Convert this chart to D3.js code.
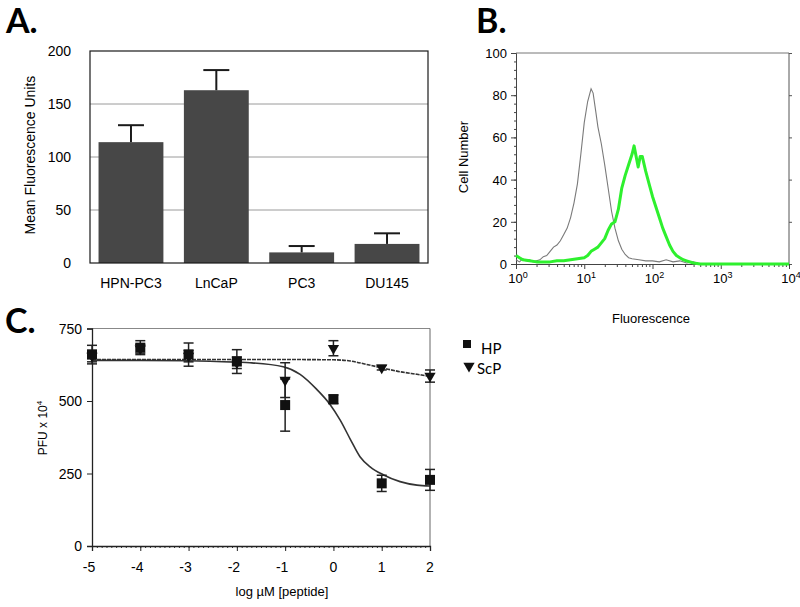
<!DOCTYPE html>
<html>
<head>
<meta charset="utf-8">
<script src="https://cdn.jsdelivr.net/npm/d3@7"></script>
<style>
  body { margin: 0; background: #fff; }
  text { font-family: "Liberation Sans", Arial, sans-serif; fill: #000; }
  .panel { font-family: Lato, "Open Sans", sans-serif; font-weight: 700; font-size: 34px; }
</style>
</head>
<body>
<div id="chart"></div>
<script>
// ---- panel A data
var cellLines = ["HPN-PC3", "LnCaP", "PC3", "DU145"];
var meanFluor = [114, 163, 10, 18];
var meanFluorErr = [16, 19, 6, 10];
var aTicks = [0, 50, 100, 150, 200];

// ---- panel B data (log10 fluorescence, cell count)
var ctrlLog = [0, 0.05, 0.1, 0.15, 0.2, 0.25, 0.3, 0.35, 0.4, 0.45, 0.5, 0.55, 0.6, 0.65, 0.7, 0.75, 0.8, 0.85, 0.9, 0.95, 1.0, 1.05, 1.1, 1.13, 1.17, 1.2, 1.25, 1.3, 1.35, 1.4, 1.45, 1.5, 1.55, 1.6, 1.65, 1.7, 1.8, 1.9, 2.0, 2.1, 2.2, 2.3, 2.4, 2.5, 2.6, 2.7, 4.0];
var ctrlCount = [2, 1, 2.5, 1.5, 2, 1, 1.5, 2, 3.5, 4, 6, 8, 9, 11, 14, 17, 22, 29, 38, 52, 67, 77, 83, 81, 72, 65, 57, 47, 36, 25, 17, 11, 7, 4.5, 3, 2.5, 2, 1.5, 1.5, 1, 2, 1, 1.5, 0.5, 1, 0, 0];
var hpnLog = [0, 0.05, 0.1, 0.2, 0.3, 0.4, 0.5, 0.6, 0.7, 0.8, 0.9, 1.0, 1.05, 1.1, 1.15, 1.2, 1.25, 1.3, 1.35, 1.4, 1.45, 1.5, 1.55, 1.6, 1.65, 1.7, 1.73, 1.76, 1.79, 1.82, 1.85, 1.9, 1.95, 2.0, 2.05, 2.1, 2.15, 2.2, 2.25, 2.3, 2.35, 2.4, 2.45, 2.5, 2.6, 2.7, 4.0];
var hpnCount = [4, 3, 2, 1.5, 1, 1, 1, 1.5, 1.5, 2, 2.5, 3, 4, 6, 7, 8, 10, 12, 16, 19, 20, 26, 36, 42, 47, 52, 56, 51, 46, 51, 51, 44, 38, 32, 27, 22, 17, 13, 9, 6, 4, 3, 2, 1.5, 0.5, 0, 0];
var bYTicks = [0, 20, 40, 60, 80, 100];
var bXTicks = [0, 1, 2, 3, 4];

// ---- panel C data
var logDose = [-5, -4, -3, -2, -1, 0, 1, 2];
var hpPfu = [660, 684, 660, 636, 486, 506, 216, 228];
var hpErr = [32, 24, 40, 41, 90, 15, 28, 36];
var scpPfu = [655, 680, 655, 632, 572, 682, 615, 586];
var scpErr = [20, 15, 20, 20, 60, 26, 8, 21];
var hpFitX = [-5, -4, -3, -2, -1.73, -1.04, -0.69, -0.345, -0.07, 0.14, 0.35, 0.55, 0.76, 1.04, 1.38, 1.73, 2];
var hpFitY = [640, 640, 639, 634, 632, 618, 592, 540, 488, 434, 368, 308, 273, 245, 222, 210, 207];
var scpFitX = [-5, -3, -1, 0, 0.35, 0.69, 1.04, 1.38, 1.73, 2];
var scpFitY = [643, 643, 643, 642, 638, 626, 613, 601, 592, 585];
var cYTicks = [0, 250, 500, 750];

var svg = d3.select("#chart").append("svg")
  .attr("width", 800).attr("height", 607);

// =================== A
var gA = svg.append("g");
svg.append("text").attr("class", "panel").attr("x", 6).attr("y", 33).text("A.");

var ax = d3.scaleBand().domain(cellLines).range([90, 428]).paddingInner(0.24).paddingOuter(0.1);
var ay = d3.scaleLinear().domain([0, 200]).range([263, 51]);

gA.selectAll(".grid").data([50, 100, 150]).enter().append("line")
  .attr("x1", 90).attr("x2", 428)
  .attr("y1", function(d){ return ay(d); }).attr("y2", function(d){ return ay(d); })
  .attr("stroke", "#9a9a9a").attr("stroke-width", 1);

gA.selectAll(".bar").data(meanFluor).enter().append("rect")
  .attr("x", function(d, i){ return ax(cellLines[i]); })
  .attr("y", function(d){ return ay(d); })
  .attr("width", ax.bandwidth())
  .attr("height", function(d){ return ay(0) - ay(d); })
  .attr("fill", "#474747");

var errA = gA.selectAll(".err").data(meanFluor).enter().append("g")
  .attr("transform", function(d, i){ return "translate(" + (ax(cellLines[i]) + ax.bandwidth()/2) + ",0)"; });
errA.append("line").attr("x1", 0).attr("x2", 0)
  .attr("y1", function(d){ return ay(d); })
  .attr("y2", function(d, i){ return ay(d + meanFluorErr[i]); })
  .attr("stroke", "#1a1a1a").attr("stroke-width", 2);
errA.append("line").attr("x1", -13).attr("x2", 13)
  .attr("y1", function(d, i){ return ay(d + meanFluorErr[i]); })
  .attr("y2", function(d, i){ return ay(d + meanFluorErr[i]); })
  .attr("stroke", "#1a1a1a").attr("stroke-width", 2);

gA.append("rect").attr("x", 90).attr("y", 51).attr("width", 338).attr("height", 212)
  .attr("fill", "none").attr("stroke", "#1a1a1a").attr("stroke-width", 1.2);

gA.selectAll(".ytl").data(aTicks).enter().append("text")
  .attr("x", 71).attr("y", function(d){ return ay(d) + 5; })
  .attr("text-anchor", "end").style("font-size", "14px").text(function(d){ return d; });

gA.selectAll(".xtl").data(cellLines).enter().append("text")
  .attr("x", function(d){ return ax(d) + ax.bandwidth()/2; }).attr("y", 288)
  .attr("text-anchor", "middle").style("font-size", "14px").text(function(d){ return d; });

gA.append("text").attr("transform", "translate(35,155) rotate(-90)")
  .attr("text-anchor", "middle").style("font-size", "14px").text("Mean Fluorescence Units");

// =================== B
var gB = svg.append("g");
svg.append("text").attr("class", "panel").attr("x", 476).attr("y", 33).text("B.");

var bx = d3.scaleLog().domain([1, 1e4]).range([516, 789]);
var by = d3.scaleLinear().domain([0, 100]).range([264, 53]);

gB.append("line").attr("x1", 516).attr("x2", 789).attr("y1", 53).attr("y2", 53).attr("stroke", "#777");
gB.append("line").attr("x1", 789).attr("x2", 789).attr("y1", 53).attr("y2", 264).attr("stroke", "#555");

gB.append("g").attr("transform", "translate(516,0)")
  .call(d3.axisLeft(by).tickValues(d3.range(0, 101, 4)).tickSize(2).tickFormat(""))
  .call(function(g){ g.select(".domain").remove(); g.selectAll("line").attr("stroke", "#444"); });
gB.append("g").attr("transform", "translate(516,0)")
  .call(d3.axisLeft(by).tickValues(bYTicks).tickSize(5).tickFormat(""))
  .call(function(g){ g.select(".domain").attr("stroke", "#444"); g.selectAll("line").attr("stroke", "#444"); });
gB.append("g").attr("transform", "translate(789,0)")
  .call(d3.axisRight(by).tickValues(bYTicks).tickSize(3).tickFormat(""))
  .call(function(g){ g.select(".domain").remove(); g.selectAll("line").attr("stroke", "#555"); });

var minorLog = [];
bXTicks.slice(0, 4).forEach(function(e){
  for (var k = 2; k < 10; k++) minorLog.push(k * Math.pow(10, e));
});
gB.append("g").attr("transform", "translate(0,264)")
  .call(d3.axisBottom(bx).tickValues(minorLog).tickSize(3).tickFormat(""))
  .call(function(g){ g.select(".domain").remove(); g.selectAll("line").attr("stroke", "#444"); });
gB.append("g").attr("transform", "translate(0,264)")
  .call(d3.axisBottom(bx).tickValues(bXTicks.map(function(e){ return Math.pow(10, e); })).tickSize(5).tickFormat(""))
  .call(function(g){ g.select(".domain").attr("stroke", "#444"); g.selectAll("line").attr("stroke", "#444"); });

gB.selectAll(".bytl").data(bYTicks).enter().append("text")
  .attr("x", 507).attr("y", function(d){ return by(d) + 5; })
  .attr("text-anchor", "end").style("font-size", "13px").text(function(d){ return d; });

var bxl = gB.selectAll(".bxtl").data(bXTicks).enter().append("text")
  .attr("x", function(d){ return bx(Math.pow(10, d)) + 2; }).attr("y", 283)
  .attr("text-anchor", "middle").style("font-size", "13px");
bxl.append("tspan").text("10");
bxl.append("tspan").attr("dy", -5).style("font-size", "9px").text(function(d){ return d; });

gB.append("text").attr("transform", "translate(468,157) rotate(-90)")
  .attr("text-anchor", "middle").style("font-size", "13px").text("Cell Number");
gB.append("text").attr("x", 651).attr("y", 323)
  .attr("text-anchor", "middle").style("font-size", "13px").text("Fluorescence");

var histLine = d3.line()
  .x(function(d){ return bx(Math.pow(10, d[0])); })
  .y(function(d){ return by(d[1]); });

gB.append("path").datum(d3.zip(ctrlLog, ctrlCount))
  .attr("d", histLine).attr("fill", "none").attr("stroke", "#7a7a7a").attr("stroke-width", 1.1);
gB.append("path").datum(d3.zip(hpnLog, hpnCount))
  .attr("d", histLine).attr("fill", "none").attr("stroke", "#2ef02e").attr("stroke-width", 3)
  .attr("stroke-linejoin", "round");

// =================== C
var gC = svg.append("g");
svg.append("text").attr("class", "panel").attr("x", 5).attr("y", 333).text("C.");

var cx = d3.scaleLinear().domain([-5, 2]).range([92, 430]);
var cy = d3.scaleLinear().domain([0, 750]).range([546, 328.5]);

gC.append("line").attr("x1", 92).attr("x2", 430).attr("y1", 328.5).attr("y2", 328.5).attr("stroke", "#888");
gC.append("line").attr("x1", 430).attr("x2", 430).attr("y1", 328.5).attr("y2", 546).attr("stroke", "#666");

gC.append("g").attr("transform", "translate(0,546)")
  .call(d3.axisBottom(cx).tickValues(d3.range(-50, 21).map(function(v){ return v / 10; })).tickSize(2).tickFormat(""))
  .call(function(g){ g.select(".domain").remove(); g.selectAll("line").attr("stroke", "#333"); });
gC.append("g").attr("transform", "translate(0,546)")
  .call(d3.axisBottom(cx).tickValues(logDose).tickSize(5).tickFormat(""))
  .call(function(g){ g.select(".domain").attr("stroke", "#222").attr("stroke-width", 1.3); g.selectAll("line").attr("stroke", "#222"); });
gC.append("g").attr("transform", "translate(92,0)")
  .call(d3.axisLeft(cy).tickValues(cYTicks).tickSize(5).tickFormat(""))
  .call(function(g){ g.select(".domain").attr("stroke", "#222").attr("stroke-width", 1.3); g.selectAll("line").attr("stroke", "#222"); });

gC.selectAll(".cytl").data(cYTicks).enter().append("text")
  .attr("x", 82).attr("y", function(d){ return cy(d) + 5; })
  .attr("text-anchor", "end").style("font-size", "14px").text(function(d){ return d; });
gC.selectAll(".cxtl").data(logDose).enter().append("text")
  .attr("x", function(d){ return cx(d) - (d < 0 ? 3 : 0); }).attr("y", 572)
  .attr("text-anchor", "middle").style("font-size", "14px").text(function(d){ return d; });

gC.append("text").attr("x", 282).attr("y", 596)
  .attr("text-anchor", "middle").style("font-size", "13px").text("log \u00b5M [peptide]");
var cyt = gC.append("text").attr("transform", "translate(47,428) rotate(-90)")
  .attr("text-anchor", "middle").style("font-size", "12px");
cyt.append("tspan").text("PFU x 10");
cyt.append("tspan").attr("dy", -5).style("font-size", "8px").text("4");

var fitLine = d3.line().curve(d3.curveMonotoneX)
  .x(function(d){ return cx(d[0]); })
  .y(function(d){ return cy(d[1]); });
gC.append("path").datum(d3.zip(hpFitX, hpFitY)).attr("d", fitLine)
  .attr("fill", "none").attr("stroke", "#333").attr("stroke-width", 1.6);
gC.append("path").datum(d3.zip(scpFitX, scpFitY)).attr("d", fitLine)
  .attr("fill", "none").attr("stroke", "#333").attr("stroke-width", 1.6)
  .attr("stroke-dasharray", "4,1");

function errBars(vals, errs) {
  var g = gC.append("g");
  var e = g.selectAll("g").data(vals).enter().append("g")
    .attr("transform", function(d, i){ return "translate(" + cx(logDose[i]) + ",0)"; });
  e.append("line").attr("x1", 0).attr("x2", 0)
    .attr("y1", function(d, i){ return cy(d + errs[i]); })
    .attr("y2", function(d, i){ return cy(d - errs[i]); })
    .attr("stroke", "#222").attr("stroke-width", 1.5);
  [1, -1].forEach(function(s){
    e.append("line").attr("x1", -5).attr("x2", 5)
      .attr("y1", function(d, i){ return cy(d + s * errs[i]); })
      .attr("y2", function(d, i){ return cy(d + s * errs[i]); })
      .attr("stroke", "#222").attr("stroke-width", 1.5);
  });
}
errBars(scpPfu, scpErr);
errBars(hpPfu, hpErr);

var tri = d3.symbol().type(d3.symbolTriangle).size(55);
gC.selectAll(".scp").data(scpPfu).enter().append("path")
  .attr("d", tri)
  .attr("transform", function(d, i){ return "translate(" + cx(logDose[i]) + "," + cy(d) + ") rotate(180)"; })
  .attr("fill", "#111");
gC.selectAll(".hp").data(hpPfu).enter().append("rect")
  .attr("x", function(d, i){ return cx(logDose[i]) - 5; })
  .attr("y", function(d){ return cy(d) - 5; })
  .attr("width", 10).attr("height", 10).attr("fill", "#111");

// legend
var legend = svg.append("g").attr("transform", "translate(463,340)");
legend.append("rect").attr("x", 0).attr("y", 0).attr("width", 8).attr("height", 8).attr("fill", "#111");
legend.append("text").attr("x", 18).attr("y", 14).style("font-family", "Lato, sans-serif").style("font-size", "15px").text("HP");
legend.append("path").attr("d", tri).attr("transform", "translate(6,26) rotate(180)").attr("fill", "#111");
legend.append("text").attr("x", 14).attr("y", 34).style("font-family", "Lato, sans-serif").style("font-size", "15px").text("ScP");
</script>
</body>
</html>
